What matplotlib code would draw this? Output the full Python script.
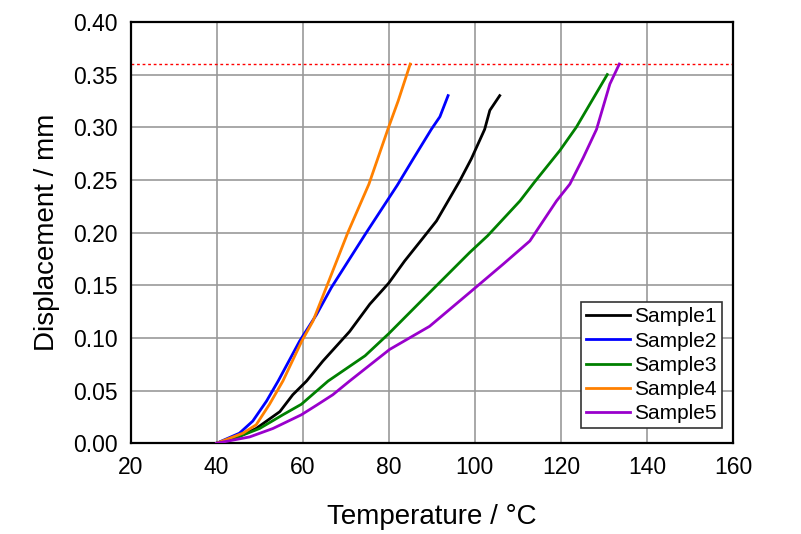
import matplotlib.pyplot as plt

plt.rcParams['font.family'] = ['Liberation Sans', 'DejaVu Sans']

# temperatures (degC) and displacements (mm)
s1_temp = [40, 45, 49.2, 54.7, 57.7, 60.9, 64.7, 70.9, 75.6, 80.0, 83.7, 88.0, 91.1, 96.5, 99.2, 102.3, 103.5, 105.8]
s1_disp = [0, 0.006, 0.014, 0.030, 0.046, 0.059, 0.078, 0.106, 0.132, 0.152, 0.173, 0.195, 0.211, 0.249, 0.270, 0.298, 0.316, 0.330]

s2_temp = [40, 45.3, 48.4, 51.6, 54.3, 59.3, 63.2, 66.7, 74.8, 82.0, 85.7, 89.9, 91.9, 93.8]
s2_disp = [0, 0.0095, 0.021, 0.040, 0.059, 0.097, 0.122, 0.148, 0.200, 0.245, 0.270, 0.298, 0.310, 0.330]

s3_temp = [40, 45, 50, 55.4, 59.7, 65.9, 74.5, 80, 89.5, 98.8, 103, 110.5, 113.9, 119.8, 123.6, 130.8]
s3_disp = [0, 0.006, 0.014, 0.027, 0.037, 0.059, 0.083, 0.104, 0.143, 0.181, 0.197, 0.230, 0.248, 0.278, 0.300, 0.350]

s4_temp = [40, 46.1, 49.2, 52.3, 55.4, 59.8, 62.4, 65.5, 70.5, 75.4, 79.8, 82.2, 85.0]
s4_disp = [0, 0.0095, 0.0175, 0.037, 0.059, 0.097, 0.116, 0.148, 0.200, 0.246, 0.298, 0.325, 0.360]

s5_temp = [40, 47.7, 53.1, 59.7, 63.2, 67, 70.9, 80.2, 89.5, 98.8, 106.6, 112.8, 119, 122.1, 125.2, 128.3, 131.4, 133.6]
s5_disp = [0, 0.006, 0.014, 0.027, 0.036, 0.046, 0.059, 0.089, 0.111, 0.143, 0.170, 0.192, 0.230, 0.246, 0.271, 0.298, 0.341, 0.360]

limit_disp = 0.36

labels = ["Sample1", "Sample2", "Sample3", "Sample4", "Sample5"]
colors = ["black", "#0000ff", "#008000", "#ff8000", "#9900cc"]


def main():
    fig = plt.figure(figsize=(8.01, 5.34), dpi=100)
    ax = fig.add_axes([0.163, 0.170, 0.752, 0.789])

    series = [(s1_temp, s1_disp), (s2_temp, s2_disp), (s3_temp, s3_disp),
              (s4_temp, s4_disp), (s5_temp, s5_disp)]
    for (t, d), lab, col in zip(series, labels, colors):
        ax.plot(t, d, color=col, lw=2.0, label=lab, zorder=3)

    ax.axhline(limit_disp, color="red", lw=1.0, ls=(0, (2, 2)), zorder=2)

    ax.set_xlim(20, 160)
    ax.set_ylim(0, 0.40)
    ax.set_xticks(range(20, 161, 20))
    ax.set_yticks([i * 0.05 for i in range(9)])
    ax.set_yticklabels([f"{i * 0.05:.2f}" for i in range(9)])
    ax.tick_params(length=0, labelsize=16.5, pad=9)
    ax.grid(True, color="#999999", lw=1.2)
    ax.set_axisbelow(True)
    for sp in ax.spines.values():
        sp.set_linewidth(1.6)

    ax.set_xlabel("Temperature / \u00b0C", fontsize=20, labelpad=18)
    ax.set_ylabel("Displacement / mm", fontsize=20, labelpad=10)

    leg = ax.legend(loc="lower right", bbox_to_anchor=(0.982, 0.035),
                    fontsize=15, handlelength=2.1,
                    handletextpad=0.2, borderpad=0.25, labelspacing=0.25,
                    borderaxespad=0, fancybox=False, framealpha=1)
    leg.get_frame().set_edgecolor("#333333")
    leg.get_frame().set_linewidth(1.2)

    fig.savefig("out.png", dpi=100)


main()
